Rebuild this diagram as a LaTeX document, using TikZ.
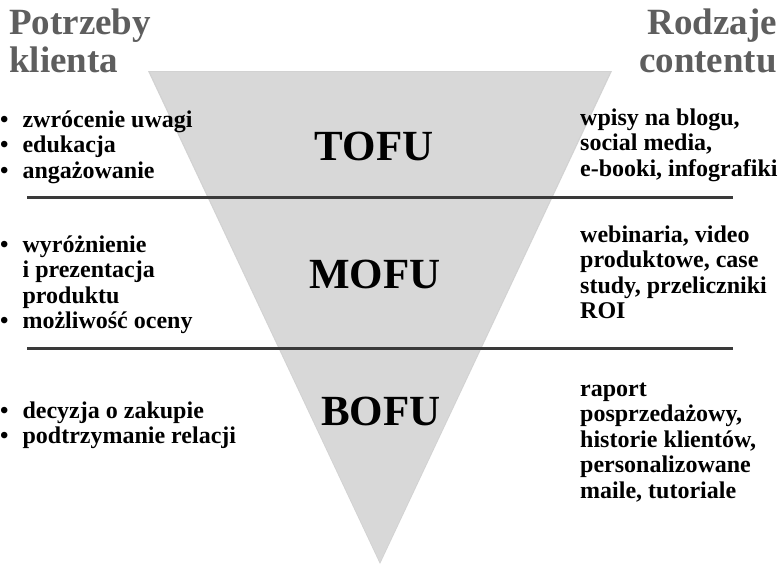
\documentclass[tikz,border=0pt]{standalone}
\usepackage{fontspec}
\setmainfont{Liberation Serif}
\usepackage{xcolor}
\usepackage{tikz}
\usetikzlibrary{positioning,calc}

\definecolor{titlegray}{HTML}{5E5E5E}
\definecolor{funnelgray}{HTML}{D8D8D8}
\definecolor{rulegray}{HTML}{3A3A3A}

\begin{document}
\begin{tikzpicture}[
    x=1pt, y=-1pt,
    heading/.style={inner sep=0pt, text=titlegray, font=\fontsize{37}{38}\selectfont\bfseries},
    stage/.style={inner sep=0pt, anchor=base, font=\fontsize{43}{44}\selectfont\bfseries},
    itemlist/.style={inner sep=0pt, anchor=base west, font=\fontsize{24}{25.5}\selectfont\bfseries},
    divider/.style={line width=3pt, draw=rulegray}
]
\useasboundingbox (0,0) rectangle (783,565);

% Funnel
\coordinate (ftl) at (150,72);
\coordinate (ftr) at (610,72);
\coordinate (ftip) at (380,562);
\fill[black!35, opacity=0.5] ($(ftl)+(-2,-1)$) -- ($(ftr)+(2,-1)$) -- ($(ftip)+(0,2)$) -- cycle;
\fill[funnelgray] (ftl) -- (ftr) -- (ftip) -- cycle;

% Dividers
\coordinate (d1w) at (27,197);
\coordinate (d1e) at (733,197);
\coordinate (d2w) at (27,348);
\coordinate (d2e) at (733,348);
\draw[divider] (d1w) -- (d1e);
\draw[divider] (d2w) -- (d2e);

% Column headings
\node[heading, anchor=base west] (needs) at (9,34)
    {\begin{tabular}[t]{@{}l@{}}Potrzeby\\klienta\end{tabular}};
\node[heading, anchor=base east] (content) at (777,34)
    {\begin{tabular}[t]{@{}r@{}}Rodzaje\\contentu\end{tabular}};

% Funnel stages
\node[stage] (tofu) at (374,160) {TOFU};
\node[stage] (mofu) at (375,288) {MOFU};
\node[stage] (bofu) at (381,425) {BOFU};

% Customer needs
\node[itemlist] (needtop) at (0,127)
    {\begin{tabular}[t]{@{}l@{\hspace{14pt}}l@{}}
     \textbullet & zwrócenie uwagi\\
     \textbullet & edukacja\\
     \textbullet & angażowanie
     \end{tabular}};
\node[itemlist] (needmid) at (0,252)
    {\begin{tabular}[t]{@{}l@{\hspace{14pt}}l@{}}
     \textbullet & wyróżnienie\\
                 & i prezentacja\\
                 & produktu\\
     \textbullet & możliwość oceny
     \end{tabular}};
\node[itemlist] (needbot) at (0,418)
    {\begin{tabular}[t]{@{}l@{\hspace{14pt}}l@{}}
     \textbullet & decyzja o zakupie\\
     \textbullet & podtrzymanie relacji
     \end{tabular}};

% Content types
\node[itemlist] (typetop) at (580,125)
    {\begin{tabular}[t]{@{}l@{}}
     wpisy na blogu,\\
     social media,\\
     e-booki, infografiki
     \end{tabular}};
\node[itemlist] (typemid) at (580,242)
    {\begin{tabular}[t]{@{}l@{}}
     webinaria, video\\
     produktowe, case\\
     study, przeliczniki\\
     ROI
     \end{tabular}};
\node[itemlist] (typebot) at (580,396)
    {\begin{tabular}[t]{@{}l@{}}
     raport\\
     posprzedażowy,\\
     historie klientów,\\
     personalizowane\\
     maile, tutoriale
     \end{tabular}};

\end{tikzpicture}
\end{document}
